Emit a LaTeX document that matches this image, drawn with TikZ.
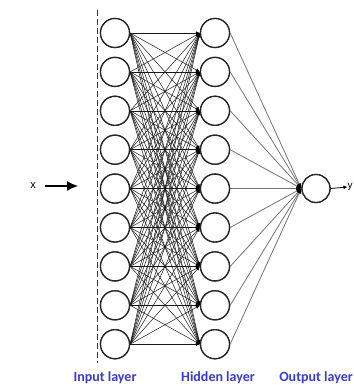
\documentclass[tikz,border=0pt]{standalone}
\usepackage{fontspec}
\setmainfont{Liberation Sans}
\newfontfamily\layerfont{Carlito}
\usetikzlibrary{arrows.meta}
\definecolor{layerblue}{HTML}{3A3AD6}
\definecolor{guide}{HTML}{2E2E7A}
\begin{document}
\begin{tikzpicture}[x=1pt,y=-1pt,
  neuron/.style={circle,draw=black!85,line width=1.3pt,fill=white,minimum size=29pt,inner sep=0pt},
  synapse/.style={black!90,line width=0.5pt,-{Latex[length=4pt,width=3.5pt,color=black]}},
  outsyn/.style={black!55,line width=0.8pt,-{Latex[length=5pt,width=4pt,color=black]}},
  layerlabel/.style={text=layerblue,font=\layerfont\bfseries\fontsize{14}{14}\selectfont,inner sep=0pt}]
\useasboundingbox (0,0) rectangle (353,387);
% input and hidden columns
\foreach \i in {1,...,9} {
  \node[neuron] (in\i) at (115,{33+(\i-1)*38.9}) {};
  \node[neuron] (hid\i) at (215,{33+(\i-1)*38.9}) {};
}
\node[neuron,minimum size=28pt] (out) at (316,188.5) {};
% fully connected weights
\foreach \i in {1,...,9}
  \foreach \j in {1,...,9}
    \draw[synapse] (in\i.east) -- (hid\j.west);
\foreach \j in {1,...,9}
  \draw[outsyn] (hid\j.east) -- (out.west);
% redraw circles over line ends
\foreach \i in {1,...,9} {
  \node[neuron] at (in\i) {};
  \node[neuron] at (hid\i) {};
}
\node[neuron,minimum size=28pt] at (out) {};
% input boundary
\draw[guide,line width=1pt,dash pattern=on 6pt off 3pt] (97,10) -- (97,363);
% input and output signals
\node[font=\fontsize{11}{11}\selectfont] (xin) at (33,186) {x};
\coordinate (xtip) at (78,186);
\draw[line width=1.2pt,-{Latex[length=11pt,width=10pt]}] (xin.east) ++(6,0) -- (xtip);
\node[font=\fontsize{10}{10}\selectfont,anchor=west,inner sep=0pt] (yout) at (347.5,187) {y};
\draw[line width=0.8pt,-{Latex[length=4pt,width=4pt]}] (out.east) -- (yout.west);
% layer captions
\node[layerlabel] (lin) at (105,378) {Input layer};
\node[layerlabel] (lhid) at (218,378) {Hidden layer};
\node[layerlabel] (lout) at (316,378) {Output layer};
\end{tikzpicture}
\end{document}
